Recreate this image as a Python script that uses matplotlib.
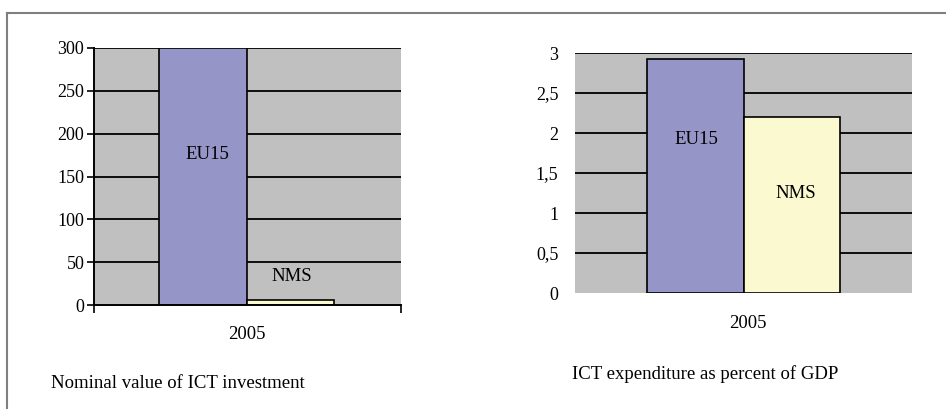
import matplotlib
matplotlib.use("Agg")
import matplotlib.pyplot as plt
from matplotlib.lines import Line2D

# data
groups = ["EU15", "NMS"]
year = "2005"
invest_vals = [300, 6]
invest_ticks = [0, 50, 100, 150, 200, 250, 300]
gdp_vals = [2.93, 2.2]
gdp_ticks = [0, 0.5, 1, 1.5, 2, 2.5, 3]
gdp_ticklabels = ["0", "0,5", "1", "1,5", "2", "2,5", "3"]

bar_colors = ["#9595c8", "#fbf9cf"]
plot_bg = "#c0c0c0"

plt.rcParams["font.family"] = ["Liberation Serif", "DejaVu Serif"]
plt.rcParams["font.size"] = 13
FS = 13.5

W, H = 946, 409
fig = plt.figure(figsize=(W / 100, H / 100), dpi=100)

def box(l, t, r, b):
    return [l / W, 1 - b / H, (r - l) / W, (b - t) / H]

# outer frame (top and left only)
fig.add_artist(Line2D([7 / W, 1], [1 - 13 / H, 1 - 13 / H], color="#7f7f7f", lw=1.5))
fig.add_artist(Line2D([7 / W, 7 / W], [0, 1 - 13 / H], color="#7f7f7f", lw=1.5))

# ---- left chart: nominal value
ax1 = fig.add_axes(box(94, 48, 401, 305))
ax1.set_facecolor(plot_bg)
ax1.set_xlim(0, 3.5)
ax1.set_ylim(0, 300)
for v in invest_ticks[1:]:
    ax1.axhline(v, color="black", lw=1.3, zorder=1)
xs1 = [1.24, 2.24]
ax1.bar(xs1, invest_vals, width=1.0, color=bar_colors, edgecolor="black", lw=1.2, zorder=2)
ax1.text(1.29, 176, groups[0], ha="center", va="center", fontsize=FS)
ax1.text(2.26, 33, groups[1], ha="center", va="center", fontsize=FS)
ax1.set_yticks(invest_ticks)
ax1.set_xticks([0, 3.5])
ax1.set_xticklabels(["", ""])
ax1.tick_params(axis="y", direction="out", length=5, width=1.2, pad=2)
ax1.tick_params(axis="x", direction="out", length=6, width=1.2)
for s in ["top", "right"]:
    ax1.spines[s].set_visible(False)
for s in ["left", "bottom"]:
    ax1.spines[s].set_linewidth(1.4)
    ax1.spines[s].set_zorder(3)
ax1.text(1.745, -34, year, ha="center", va="center", fontsize=FS)
fig.text(51 / W, 1 - 383 / H, "Nominal value of ICT investment", ha="left", va="center", fontsize=FS)

# ---- right chart: share of GDP
ax2 = fig.add_axes(box(575, 53, 912, 293))
ax2.set_facecolor(plot_bg)
ax2.set_xlim(0, 3.5)
ax2.set_ylim(0, 3)
for v in gdp_ticks[1:]:
    ax2.axhline(v, color="black", lw=1.3, zorder=1)
xs2 = [1.25, 2.25]
ax2.bar(xs2, gdp_vals, width=1.0, color=bar_colors, edgecolor="black", lw=1.2, zorder=2)
ax2.text(1.26, 1.92, groups[0], ha="center", va="center", fontsize=FS)
ax2.text(2.29, 1.25, groups[1], ha="center", va="center", fontsize=FS)
ax2.set_yticks(gdp_ticks)
ax2.set_yticklabels(gdp_ticklabels)
ax2.set_xticks([])
ax2.tick_params(axis="y", length=0, pad=12)
for s in ax2.spines.values():
    s.set_visible(False)
ax2.text(1.8, -0.375, year, ha="center", va="center", fontsize=FS)
fig.text(705 / W, 1 - 374 / H, "ICT expenditure as percent of GDP", ha="center", va="center", fontsize=FS)

fig.savefig("out.png", dpi=100, facecolor="white")
